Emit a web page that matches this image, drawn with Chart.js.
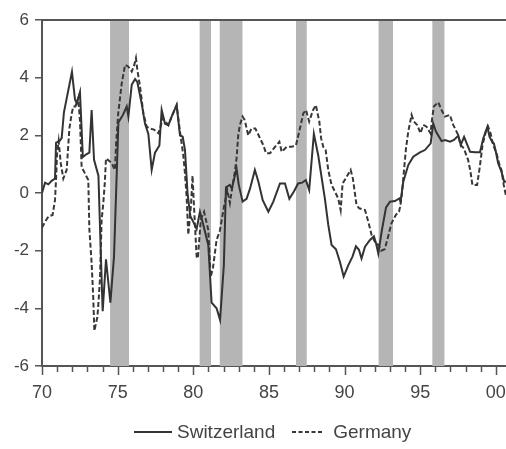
<!DOCTYPE html>
<html>
<head>
<meta charset="utf-8">
<title>Switzerland vs Germany</title>
<script src="https://cdn.jsdelivr.net/npm/chart.js@4"></script>
<style>
  body { margin: 0; background: #fff; }
  #wrap { position: relative; width: 506px; height: 449px; }
  #legend {
    position: absolute; left: 134px; top: 420px; height: 24px;
    display: flex; align-items: center;
    font: 19px "Liberation Sans", Arial, sans-serif; color: #444;
  }
  #legend svg { display: block; }
</style>
</head>
<body>
<div id="wrap">
  <canvas id="chart" width="506" height="449"></canvas>
  <div id="legend"></div>
</div>
<script>
// Switzerland, dates in decimal years
const swissYears = [
  1970.00, 1970.20, 1970.42, 1970.64, 1970.86, 1970.93, 1971.15, 1971.30, 1971.45, 1971.98,
  1972.18, 1972.30, 1972.51, 1972.70, 1972.95, 1973.13, 1973.28, 1973.44, 1973.73, 1973.90,
  1974.01, 1974.23, 1974.52, 1974.76, 1975.05, 1975.34, 1975.60, 1975.71, 1975.93, 1976.15,
  1976.30, 1976.59, 1976.81, 1977.03, 1977.25, 1977.47, 1977.76, 1977.91, 1978.13, 1978.35,
  1978.57, 1978.90, 1979.12, 1979.30, 1979.45, 1979.62, 1979.80, 1980.00, 1980.22, 1980.44,
  1980.66, 1980.99, 1981.21, 1981.54, 1981.77, 1982.02, 1982.16, 1982.42, 1982.55, 1982.86,
  1983.00, 1983.26, 1983.52, 1983.75, 1984.07, 1984.30, 1984.59, 1984.96, 1985.29, 1985.73,
  1986.06, 1986.35, 1986.65, 1986.93, 1987.20, 1987.44, 1987.66, 1987.97, 1988.26, 1988.70,
  1988.92, 1989.14, 1989.43, 1989.70, 1989.94, 1990.25, 1990.53, 1990.75, 1990.95, 1991.12,
  1991.35, 1991.68, 1991.94, 1992.08, 1992.23, 1992.45, 1992.74, 1993.00, 1993.33, 1993.62,
  1993.70, 1993.88, 1994.21, 1994.54, 1994.98, 1995.31, 1995.69, 1995.86, 1996.04, 1996.41,
  1996.64, 1996.97, 1997.23, 1997.52, 1997.68, 1997.90, 1998.30, 1998.62, 1998.95, 1999.17,
  1999.44, 1999.58, 1999.75, 1999.87, 2000.00, 2000.15, 2000.37, 2000.55, 2000.67
];
const swissValues = [
  0.00, 0.36, 0.30, 0.42, 0.50, 1.75, 1.80, 1.90, 2.80, 4.20,
  3.25, 3.10, 3.50, 1.25, 1.35, 1.40, 2.88, 1.15, 0.60, -2.30,
  -4.10, -2.30, -3.80, -2.20, 2.45, 2.70, 3.00, 2.65, 3.75, 3.95,
  3.85, 3.10, 2.40, 2.05, 0.80, 1.40, 1.65, 2.88, 2.40, 2.35,
  2.65, 3.05, 2.00, 1.95, 1.50, 0.00, -0.80, -1.00, -1.25, -0.65,
  -1.10, -1.80, -3.80, -4.00, -4.40, -2.50, 0.20, 0.28, 0.15, 0.85,
  0.30, -0.30, -0.20, 0.15, 0.80, 0.40, -0.25, -0.65, -0.30, 0.33,
  0.33, -0.20, 0.05, 0.33, 0.36, 0.45, 0.10, 2.05, 1.30, -0.20,
  -1.10, -1.80, -1.95, -2.40, -2.90, -2.50, -2.20, -1.85, -1.97, -2.27,
  -1.86, -1.63, -1.50, -1.74, -2.10, -1.34, -0.50, -0.30, -0.28, -0.19,
  -0.30, 0.39, 0.97, 1.26, 1.41, 1.49, 1.72, 2.41, 2.13, 1.80,
  1.84, 1.78, 1.84, 1.99, 1.67, 1.95, 1.43, 1.41, 1.41, 1.90,
  2.30, 1.95, 1.78, 1.72, 1.43, 1.03, 0.74, 0.39, 0.40
];

// Germany, dates in decimal years
const germanYears = [
  1970.00, 1970.20, 1970.42, 1970.70, 1970.86, 1970.93, 1971.00, 1971.10, 1971.24, 1971.41,
  1971.63, 1971.81, 1971.96, 1972.07, 1972.20, 1972.40, 1972.51, 1972.62, 1972.84, 1973.06,
  1973.13, 1973.28, 1973.39, 1973.46, 1973.66, 1973.72, 1973.83, 1973.94, 1974.05, 1974.15,
  1974.23, 1974.60, 1974.82, 1974.90, 1975.04, 1975.27, 1975.49, 1975.70, 1975.93, 1976.10,
  1976.21, 1976.30, 1976.48, 1976.70, 1976.92, 1977.10, 1977.40, 1977.70, 1978.00, 1978.35,
  1978.57, 1978.90, 1979.12, 1979.34, 1979.45, 1979.56, 1979.67, 1979.85, 1979.95, 1980.05,
  1980.22, 1980.30, 1980.50, 1980.71, 1980.99, 1981.15, 1981.30, 1981.54, 1981.76, 1982.02,
  1982.25, 1982.42, 1982.53, 1982.75, 1982.86, 1982.97, 1983.08, 1983.26, 1983.40, 1983.63,
  1983.85, 1984.10, 1984.41, 1984.63, 1984.81, 1985.07, 1985.40, 1985.69, 1985.84, 1986.17,
  1986.50, 1986.79, 1987.05, 1987.27, 1987.45, 1987.66, 1987.92, 1988.10, 1988.33, 1988.45,
  1988.59, 1988.75, 1988.92, 1989.14, 1989.36, 1989.58, 1989.74, 1989.87, 1990.14, 1990.40,
  1990.55, 1990.79, 1990.97, 1991.35, 1991.57, 1991.79, 1992.00, 1992.23, 1992.42, 1992.65,
  1992.82, 1993.10, 1993.39, 1993.60, 1993.66, 1993.77, 1993.92, 1994.06, 1994.21, 1994.43,
  1994.58, 1994.80, 1995.02, 1995.20, 1995.42, 1995.68, 1995.79, 1995.90, 1996.19, 1996.41,
  1996.63, 1996.96, 1997.18, 1997.30, 1997.51, 1997.66, 1997.88, 1998.17, 1998.32, 1998.45,
  1998.76, 1998.94, 1999.12, 1999.34, 1999.49, 1999.65, 1999.82, 2000.04, 2000.21, 2000.37,
  2000.52, 2000.67
];
const germanValues = [
  -1.20, -1.00, -0.82, -0.76, -0.24, 0.50, 1.40, 1.80, 1.03, 0.50,
  0.80, 2.24, 2.75, 3.00, 3.00, 3.30, 2.50, 0.90, 0.68, 0.45,
  -1.25, -2.43, -3.65, -4.78, -4.30, -3.90, -3.00, -0.94, -0.36, 0.34,
  1.20, 1.04, 0.80, 1.73, 2.77, 3.80, 4.44, 4.39, 4.21, 4.44,
  4.68, 4.28, 3.69, 2.77, 2.30, 2.24, 2.20, 2.07, 2.60, 2.35,
  2.65, 3.05, 2.13, 1.31, 0.68, -0.13, -1.45, -0.40, 0.60, -0.50,
  -2.20, -2.27, -0.90, -0.65, -1.28, -2.90, -2.60, -1.63, -1.30, -0.50,
  0.10, -0.35, 0.05, 0.74, 1.20, 2.00, 2.36, 2.65, 2.53, 2.00,
  2.24, 2.24, 1.90, 1.66, 1.38, 1.38, 1.60, 1.78, 1.43, 1.60,
  1.60, 1.66, 2.24, 2.76, 2.88, 2.48, 2.88, 3.05, 2.48, 1.90,
  1.60, 1.49, 0.80, 0.28, 0.05, -0.19, -0.59, 0.33, 0.56, 0.80,
  0.50, -0.42, -0.53, -0.59, -1.00, -1.46, -1.69, -1.80, -2.00, -1.95,
  -1.63, -1.05, -0.76, -0.65, -0.50, -0.13, 0.74, 1.55, 2.13, 2.71,
  2.48, 2.36, 2.07, 2.36, 2.30, 2.07, 2.59, 3.00, 3.15, 2.88,
  2.65, 2.71, 2.36, 2.24, 2.01, 1.67, 1.55, 1.14, 0.74, 0.28,
  0.28, 0.91, 1.67, 2.13, 2.30, 2.07, 1.67, 1.38, 1.03, 0.80,
  0.28, -0.10
];

// shaded periods (start, end)
const shadeStart = [1974.50, 1980.42, 1981.75, 1986.79, 1992.25, 1995.80];
const shadeEnd   = [1975.75, 1981.17, 1983.25, 1987.50, 1993.20, 1996.60];

const seriesNames = ['Switzerland', 'Germany'];

// axis ticks
const yTickValues = [-6, -4, -2, 0, 2, 4, 6];
const yTickText = ['-6', '-4', '-2', '0', '2', '4', '6'];
const xLabelYears = [1970, 1975, 1980, 1985, 1990, 1995, 2000];
const xLabelText = ['70', '75', '80', '85', '90', '95', '00'];

const AXIS = '#555';
const TEXT = '#444';
const FONT = '"Liberation Sans", Arial, sans-serif';

function toPoints(xs, ys) {
  return xs.map((x, i) => ({ x: x, y: ys[i] }));
}

// gray bands behind the lines
const shadePlugin = {
  id: 'shade',
  beforeDatasetsDraw(chart) {
    const { ctx, chartArea, scales } = chart;
    ctx.save();
    ctx.fillStyle = '#b5b5b5';
    shadeStart.forEach((a, i) => {
      const x0 = scales.x.getPixelForValue(a);
      const x1 = scales.x.getPixelForValue(shadeEnd[i]);
      ctx.fillRect(x0, chartArea.top, x1 - x0, chartArea.bottom - chartArea.top);
    });
    ctx.restore();
  }
};

// top frame line and the yearly x tick marks (longer every five years)
const framePlugin = {
  id: 'frame',
  afterDraw(chart) {
    const { ctx, chartArea, scales } = chart;
    ctx.save();
    ctx.strokeStyle = AXIS;
    ctx.lineWidth = 2;
    ctx.beginPath();
    ctx.moveTo(chartArea.left - 1, chartArea.top);
    ctx.lineTo(chartArea.right, chartArea.top);
    ctx.stroke();

    ctx.lineWidth = 1.5;
    scales.x.ticks.forEach(t => {
      const px = Math.round(scales.x.getPixelForValue(t.value)) + 0.5;
      const len = xLabelYears.includes(t.value) ? 9 : 6;
      ctx.beginPath();
      ctx.moveTo(px, chartArea.bottom);
      ctx.lineTo(px, chartArea.bottom + len);
      ctx.stroke();
    });
    ctx.restore();
  }
};

new Chart(document.getElementById('chart'), {
  type: 'line',
  data: {
    datasets: [
      {
        label: seriesNames[0],
        data: toPoints(swissYears, swissValues),
        borderColor: '#333',
        borderWidth: 2,
        pointRadius: 0,
        tension: 0
      },
      {
        label: seriesNames[1],
        data: toPoints(germanYears, germanValues),
        borderColor: '#383838',
        borderWidth: 2,
        borderDash: [5, 2.5],
        pointRadius: 0,
        tension: 0
      }
    ]
  },
  options: {
    responsive: false,
    animation: false,
    layout: { padding: { top: 20, right: 0, bottom: 0, left: 0 } },
    plugins: {
      legend: { display: false },
      tooltip: { enabled: false }
    },
    scales: {
      x: {
        type: 'linear',
        min: 1970,
        max: 2000.67,
        afterFit(scale) {
          scale.height = 83;
          scale.paddingLeft = 0;
          scale.paddingRight = 0;
        },
        ticks: {
          stepSize: 1,
          autoSkip: false,
          maxRotation: 0,
          includeBounds: false,
          padding: 7,
          color: TEXT,
          font: { family: FONT, size: 18 },
          callback: v => {
            const i = xLabelYears.indexOf(v);
            return i < 0 ? '' : xLabelText[i];
          }
        },
        grid: { display: false, drawTicks: true, tickLength: 9 },
        border: { display: true, color: AXIS, width: 2 }
      },
      y: {
        min: -6,
        max: 6,
        afterFit(scale) {
          scale.width = 42;
        },
        ticks: {
          stepSize: 2,
          padding: 6,
          color: TEXT,
          font: { family: FONT, size: 17 },
          callback: v => {
            const i = yTickValues.indexOf(v);
            return i < 0 ? '' : yTickText[i];
          }
        },
        grid: { drawOnChartArea: false, tickLength: 7, color: AXIS, lineWidth: 1.5 },
        border: { display: true, color: AXIS, width: 2 }
      }
    }
  },
  plugins: [shadePlugin, framePlugin]
});

// legend below the plot
const legend = document.getElementById('legend');
legend.innerHTML =
  '<svg width="38" height="6"><line x1="0" y1="3" x2="38" y2="3" stroke="#333" stroke-width="2"/></svg>' +
  '<span style="margin-left:5px">' + seriesNames[0] + '</span>' +
  '<svg width="32" height="6" style="margin-left:17px"><line x1="0" y1="3" x2="32" y2="3" stroke="#383838" stroke-width="1.8" stroke-dasharray="4 2.5"/></svg>' +
  '<span style="margin-left:9px">' + seriesNames[1] + '</span>';
</script>
</body>
</html>
